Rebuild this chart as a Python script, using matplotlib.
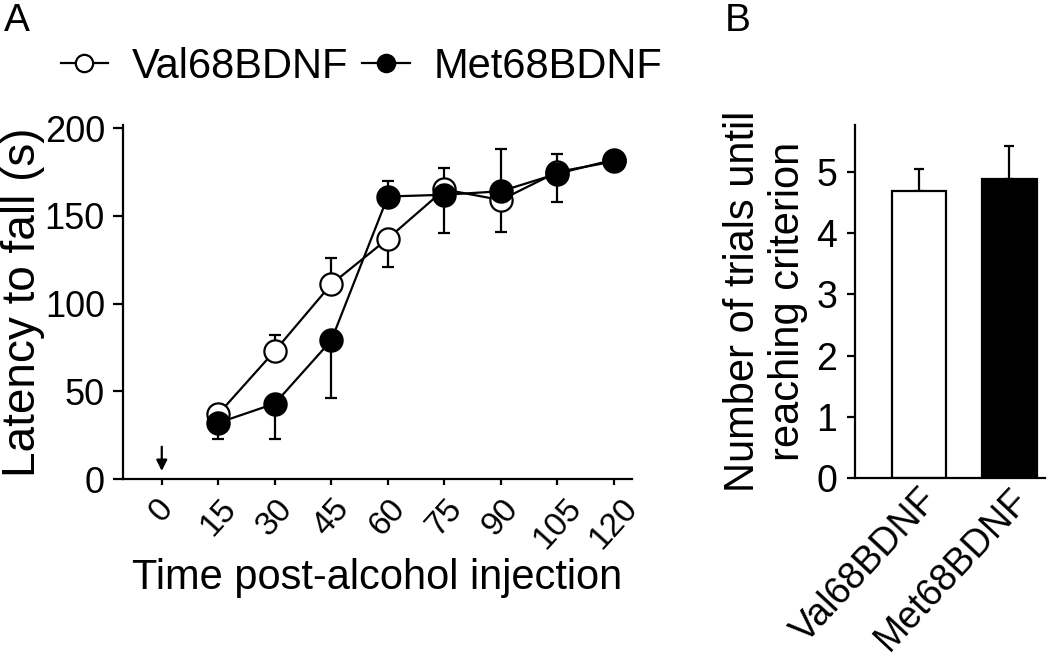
import numpy as np
import matplotlib
matplotlib.use('Agg')
import matplotlib.pyplot as plt

plt.rcParams['font.family'] = ['Liberation Sans', 'DejaVu Sans']

# Panel A: latency to fall after alcohol injection
times = [15, 30, 45, 60, 75, 90, 105, 120]
tick_times = [0, 15, 30, 45, 60, 75, 90, 105, 120]
val_mean = [37, 73, 111, 137, 165, 159, 175, 181]
val_lo = [0, 0, 0, 16, 0, 0, 0, 0]
val_hi = [5, 9, 15, 0, 12, 0, 10, 0]
met_mean = [32, 43, 79, 161, 162, 164, 174, 182]
met_lo = [9, 20, 33, 0, 22, 23, 16, 0]
met_hi = [0, 0, 0, 9, 0, 24, 0, 0]

# Panel B: trials until criterion
groups = ['Val68BDNF', 'Met68BDNF']
trials_mean = [4.69, 4.88]
trials_err = [0.36, 0.55]

fig = plt.figure(figsize=(10.5, 6.69), dpi=100)
ax1 = fig.add_axes([0.1171, 0.284, 0.4848, 0.529])
ax2 = fig.add_axes([0.8143, 0.2855, 0.181, 0.528])

lw = 1.6
ax1.errorbar(times, val_mean, yerr=[val_lo, val_hi], fmt='none', ecolor='black',
             elinewidth=lw, capsize=4, capthick=lw, zorder=2)
ax1.errorbar(times, met_mean, yerr=[met_lo, met_hi], fmt='none', ecolor='black',
             elinewidth=lw, capsize=4, capthick=lw, zorder=2)
ax1.plot(times, val_mean, '-o', color='black', mfc='white', mec='black', ms=16,
         mew=1.6, lw=lw, zorder=3, label='Val68BDNF')
ax1.plot(times, met_mean, '-o', color='black', mfc='black', mec='black', ms=16,
         mew=1.6, lw=lw, zorder=4, label='Met68BDNF')

ax1.annotate('', xy=(0, 3), xytext=(0, 20),
             arrowprops=dict(arrowstyle='-|>', color='black', lw=1.6, mutation_scale=16))

ax1.set_xlim(-10.3, 124.8)
ax1.set_ylim(0, 201.7)
ax1.set_xticks(tick_times)
ax1.set_xticklabels([str(t) for t in tick_times], rotation=48, ha='center')
ax1.set_yticks([0, 50, 100, 150, 200])
ax1.spines['top'].set_visible(False)
ax1.spines['right'].set_visible(False)
for s in ['left', 'bottom']:
    ax1.spines[s].set_linewidth(lw)
ax1.tick_params(axis='y', labelsize=26, width=lw, length=7, pad=6)
ax1.tick_params(axis='x', labelsize=24, width=lw, length=4, pad=6)
ax1.set_ylabel('Latency to fall (s)', fontsize=33, labelpad=0)
ax1.set_xlabel('Time post-alcohol injection', fontsize=30, labelpad=2)

fig.legend(loc='center', bbox_to_anchor=(0.344, 0.900), ncol=2, frameon=False,
           fontsize=30, handlelength=1.15, handletextpad=0.55, columnspacing=0.35,
           markerscale=0.78)

# Panel B
ax2.bar([0, 1], trials_mean, width=0.61, color=['white', 'black'],
        edgecolor='black', linewidth=lw, zorder=2)
ax2.errorbar([0, 1], trials_mean, yerr=[[0, 0], trials_err], fmt='none',
             ecolor='black', elinewidth=lw, capsize=3.5, capthick=lw, zorder=1)
ax2.set_xlim(-0.711, 1.4)
ax2.set_ylim(0, 5.77)
ax2.set_yticks([0, 1, 2, 3, 4, 5])
ax2.set_xticks([0, 1])
ax2.set_xticklabels(groups, rotation=47, ha='right', rotation_mode='anchor')
ax2.spines['top'].set_visible(False)
ax2.spines['right'].set_visible(False)
for s in ['left', 'bottom']:
    ax2.spines[s].set_linewidth(lw)
ax2.tick_params(axis='y', labelsize=27, width=lw, length=6, pad=7)
ax2.tick_params(axis='x', labelsize=27, width=0, length=0, pad=3)
ax2.set_ylabel('Number of trials until\nreaching criterion', fontsize=30,
               labelpad=6, linespacing=1.15)

fig.text(0.004, 0.995, 'A', fontsize=28, va='top', ha='left')
fig.text(0.690, 0.995, 'B', fontsize=28, va='top', ha='left')

fig.savefig('out.png', dpi=100)
